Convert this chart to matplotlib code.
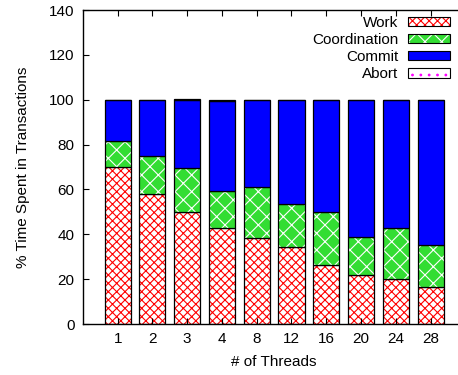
import numpy as np
import matplotlib
matplotlib.use('Agg')
import matplotlib.pyplot as plt
from matplotlib.patches import Patch

threads = ['1', '2', '3', '4', '8', '12', '16', '20', '24', '28']
work = [70.0, 58.0, 49.8, 42.9, 38.2, 34.4, 26.2, 21.9, 19.9, 16.4]
coord = [11.8, 17.1, 19.7, 16.2, 23.1, 19.3, 23.8, 16.9, 22.7, 19.0]
commit = [17.9, 24.6, 30.3, 40.4, 38.4, 46.0, 49.7, 60.9, 57.1, 64.3]
abort = [0.3, 0.3, 0.7, 0.5, 0.3, 0.3, 0.3, 0.3, 0.3, 0.3]

plt.rcParams['font.family'] = ['Liberation Sans', 'DejaVu Sans']
plt.rcParams['hatch.linewidth'] = 0.8

fig = plt.figure(figsize=(4.58, 3.75), dpi=100)
ax = fig.add_axes([0.181, 0.136, 0.835, 0.837])

x = np.arange(len(threads))
w = 0.75
series = [
    ('Work', work, 'white', 'red', 'xxxx'),
    ('Coordination', coord, '#33dd33', 'white', 'xx'),
    ('Commit', commit, '#0000ff', '#0000ff', None),
    ('Abort', abort, 'white', 'magenta', '..'),
]

bottom = np.zeros(len(threads))
handles = []
for name, vals, fc, hc, hatch in series:
    vals = np.array(vals)
    ax.bar(x, vals, w, bottom=bottom, color=fc, edgecolor=hc, hatch=hatch, linewidth=0)
    ax.bar(x, vals, w, bottom=bottom, fill=False, edgecolor='black', linewidth=0.9)
    bottom += vals
    # hatched patch plus a black outline on top, for the legend
    handles.append((Patch(facecolor=fc, edgecolor=hc, hatch=hatch, linewidth=0),
                    Patch(fill=False, edgecolor='black', linewidth=0.8)))

ax.set_xlim(-1, 10)
ax.set_ylim(0, 140)
ax.set_yticks(range(0, 141, 20))
ax.set_xticks(x)
ax.set_xticklabels(threads)
ax.tick_params(direction='in', top=True, right=True, length=4, labelsize=11, pad=6)
for s in ax.spines.values():
    s.set_linewidth(1.0)

ax.set_ylabel('% Time Spent in Transactions', fontsize=11, labelpad=14)
ax.set_xlabel('# of Threads', fontsize=11, labelpad=6)

ax.legend(handles, [s[0] for s in series], loc='upper right',
          bbox_to_anchor=(0.985, 1.01), frameon=False, markerfirst=False,
          fontsize=11, handlelength=2.8, handleheight=0.55,
          labelspacing=0.2, borderaxespad=0.2, handletextpad=0.6)

fig.savefig('out.png', dpi=100)
